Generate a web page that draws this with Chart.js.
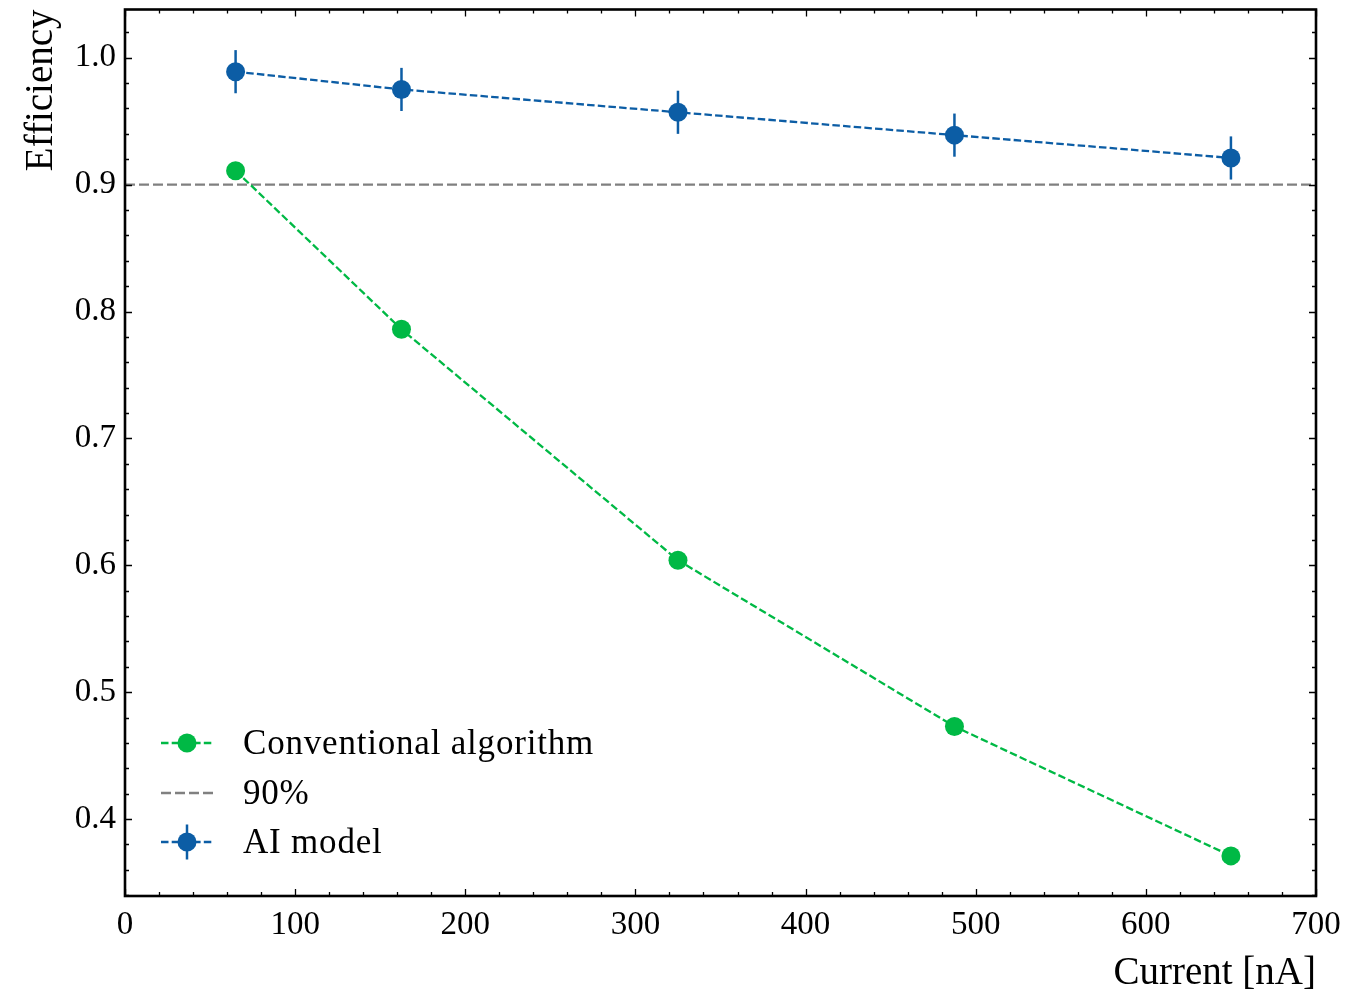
<!DOCTYPE html>
<html>
<head>
<meta charset="utf-8">
<script src="https://cdn.jsdelivr.net/npm/chart.js@4.4.1/dist/chart.umd.min.js"></script>
<style>
  html, body { margin: 0; padding: 0; background: #fff; }
  #wrap { width: 1350px; height: 997px; position: relative; }
</style>
</head>
<body>
<div id="wrap"><canvas id="c" width="1350" height="997"></canvas></div>
<script>
// ---- data ----
const currents = [65, 162.5, 325, 487.5, 650];
const conventional = [0.911, 0.786, 0.604, 0.473, 0.371];
const aiModel = [0.989, 0.975, 0.957, 0.939, 0.921];
const aiError = [0.017, 0.017, 0.017, 0.017, 0.017];
const thresholdX = [0, 700];
const thresholdY = [0.9, 0.9];
const xTicks = [0, 100, 200, 300, 400, 500, 600, 700];
const yTicks = [0.4, 0.5, 0.6, 0.7, 0.8, 0.9, 1.0];
const xMinorStep = 20;
const yMinorStep = 0.02;
const legendLabels = ['Conventional algorithm', '90%', 'AI model'];

const BLUE = '#0C5DA5';
const GREEN = '#00B945';
const GRAY = '#808080';
const FONT = "'Liberation Serif', 'DejaVu Serif', serif";

const frameTicks = {
  id: 'frameTicks',
  beforeDatasetsDraw(chart) {
    const ctx = chart.ctx;
    const xs = chart.scales.x, ys = chart.scales.y;
    ctx.save();
    ctx.strokeStyle = BLUE;
    ctx.lineWidth = 2.5;
    currents.forEach((cx, i) => {
      const px = xs.getPixelForValue(cx);
      ctx.beginPath();
      ctx.moveTo(px, ys.getPixelForValue(aiModel[i] - aiError[i]));
      ctx.lineTo(px, ys.getPixelForValue(aiModel[i] + aiError[i]));
      ctx.stroke();
    });
    ctx.restore();
  },
  afterDraw(chart) {
    const ctx = chart.ctx;
    const a = chart.chartArea;
    const xs = chart.scales.x, ys = chart.scales.y;
    ctx.save();
    ctx.strokeStyle = '#000';
    ctx.lineWidth = 1.3;
    const tick = (len, isX, v) => {
      if (isX) {
        const p = Math.round(xs.getPixelForValue(v)) + 0.5;
        ctx.beginPath();
        ctx.moveTo(p, a.bottom); ctx.lineTo(p, a.bottom - len);
        ctx.moveTo(p, a.top); ctx.lineTo(p, a.top + len);
        ctx.stroke();
      } else {
        const p = Math.round(ys.getPixelForValue(v)) + 0.5;
        ctx.beginPath();
        ctx.moveTo(a.left, p); ctx.lineTo(a.left + len, p);
        ctx.moveTo(a.right, p); ctx.lineTo(a.right - len, p);
        ctx.stroke();
      }
    };
    for (let v = xs.min; v <= xs.max + 1e-9; v += xMinorStep) {
      const major = xTicks.some(t => Math.abs(t - v) < 1e-6);
      tick(major ? 7 : 4, true, v);
    }
    for (let k = Math.ceil(ys.min / yMinorStep - 1e-9); k * yMinorStep <= ys.max + 1e-9; k++) {
      const v = k * yMinorStep;
      const major = yTicks.some(t => Math.abs(t - v) < 1e-6);
      tick(major ? 7 : 4, false, v);
    }
    ctx.lineWidth = 2.6;
    ctx.strokeRect(a.left, a.top, a.right - a.left, a.bottom - a.top);

    // legend
    const lx0 = a.left + 36, lx1 = a.left + 89, mx = a.left + 62;
    const rows = [a.bottom - 153, a.bottom - 103, a.bottom - 54];
    const colors = [GREEN, GRAY, BLUE];
    ctx.font = '35px ' + FONT;
    try { ctx.letterSpacing = '0.8px'; } catch (e) {}
    ctx.textBaseline = 'middle';
    ctx.textAlign = 'left';
    rows.forEach((y, i) => {
      ctx.strokeStyle = colors[i];
      ctx.lineWidth = 2.3;
      ctx.setLineDash(i === 1 ? [10, 4] : [7.5, 3.2]);
      ctx.beginPath();
      ctx.moveTo(lx0, y); ctx.lineTo(lx1, y);
      ctx.stroke();
      ctx.setLineDash([]);
      if (i !== 1) {
        if (i === 2) {
          ctx.lineWidth = 2.5;
          ctx.beginPath();
          ctx.moveTo(mx, y - 17.5); ctx.lineTo(mx, y + 17.5);
          ctx.stroke();
        }
        ctx.fillStyle = colors[i];
        ctx.beginPath();
        ctx.arc(mx, y, 9.5, 0, Math.PI * 2);
        ctx.fill();
      }
      ctx.fillStyle = '#000';
      ctx.fillText(legendLabels[i], a.left + 118, y + 2);
    });
    ctx.restore();
  }
};

new Chart(document.getElementById('c'), {
  type: 'line',
  data: {
    datasets: [
      {
        label: legendLabels[0],
        data: currents.map((x, i) => ({ x, y: conventional[i] })),
        borderColor: GREEN, backgroundColor: GREEN,
        borderWidth: 2.3, borderDash: [7.5, 3.2],
        pointRadius: 9.5, pointHoverRadius: 9.5, pointBorderWidth: 0,
        fill: false, tension: 0
      },
      {
        label: legendLabels[1],
        data: thresholdX.map((x, i) => ({ x, y: thresholdY[i] })),
        borderColor: GRAY, backgroundColor: GRAY,
        borderWidth: 2.3, borderDash: [10, 4],
        pointRadius: 0, pointHoverRadius: 0,
        fill: false, tension: 0
      },
      {
        label: legendLabels[2],
        data: currents.map((x, i) => ({ x, y: aiModel[i] })),
        borderColor: BLUE, backgroundColor: BLUE,
        borderWidth: 2.3, borderDash: [7.5, 3.2],
        pointRadius: 9.5, pointHoverRadius: 9.5, pointBorderWidth: 0,
        fill: false, tension: 0
      }
    ]
  },
  options: {
    responsive: false,
    animation: false,
    events: [],
    layout: { padding: { top: 8, right: 34, left: 0, bottom: 0 } },
    plugins: { legend: { display: false }, tooltip: { enabled: false } },
    scales: {
      x: {
        type: 'linear', min: 0, max: 700,
        grid: { display: false, drawTicks: false },
        border: { display: false },
        afterBuildTicks: s => { s.ticks = xTicks.map(v => ({ value: v })); },
        afterFit: s => { s.height = 101; s.paddingLeft = 0; s.paddingRight = 0; },
        ticks: { color: '#000', font: { family: FONT, size: 33 }, padding: 10, maxRotation: 0,
                 callback: v => String(v) },
        title: { display: true, text: 'Current [nA]', align: 'end', color: '#000',
                 font: { family: FONT, size: 39, lineHeight: 1.2 }, padding: { top: 0, bottom: 0 } }
      },
      y: {
        type: 'linear', min: 0.3394, max: 1.038,
        grid: { display: false, drawTicks: false },
        border: { display: false },
        afterBuildTicks: s => { s.ticks = yTicks.map(v => ({ value: v })); },
        afterFit: s => { s.width = 125; s.paddingTop = 0; s.paddingBottom = 0; },
        ticks: { color: '#000', font: { family: FONT, size: 33 }, padding: 9,
                 callback: v => Number(v).toFixed(1) },
        title: { display: true, text: 'Efficiency', align: 'end', color: '#000',
                 font: { family: FONT, size: 39, lineHeight: 1.2 }, padding: { top: 18, bottom: 0 } }
      }
    }
  },
  plugins: [frameTicks]
});
</script>
</body>
</html>
